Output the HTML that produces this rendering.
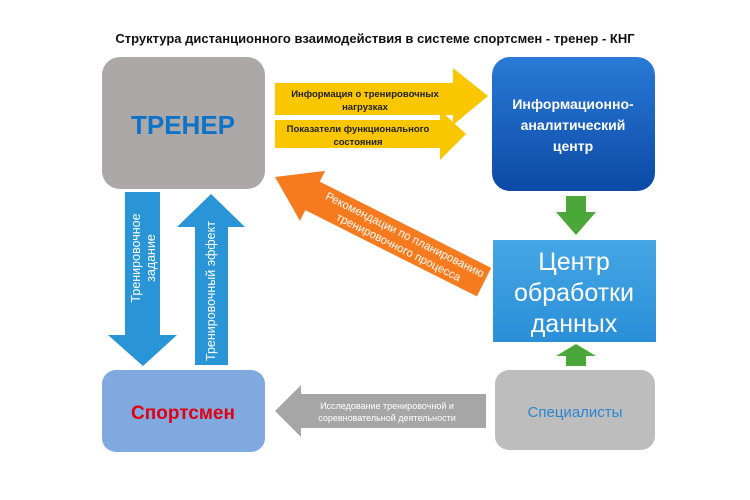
<!DOCTYPE html>
<html><head><meta charset="utf-8"><style>
body{margin:0;background:#fff;}
svg{display:block;font-family:"Liberation Sans","DejaVu Sans",sans-serif;}
</style></head><body>
<svg width="750" height="500" viewBox="0 0 750 500" xmlns="http://www.w3.org/2000/svg">
<defs>
<linearGradient id="gb" x1="0" y1="0" x2="0" y2="1"><stop offset="0" stop-color="#2a7ad6"/><stop offset="1" stop-color="#0b4aa6"/></linearGradient>
<linearGradient id="gc" x1="0" y1="0" x2="0" y2="1"><stop offset="0" stop-color="#45a6e4"/><stop offset="1" stop-color="#2a8fd8"/></linearGradient>
</defs>
<text x="375" y="43" text-anchor="middle" font-size="13" font-weight="bold" fill="#111">Структура дистанционного взаимодействия в системе спортсмен - тренер - КНГ</text>

<rect x="102" y="57" width="163" height="132" rx="18" fill="#aca8a7"/>
<text x="183" y="134" text-anchor="middle" font-size="26" font-weight="bold" fill="#0d73c8">ТРЕНЕР</text>

<rect x="492" y="57" width="163" height="134" rx="18" fill="url(#gb)"/>
<text font-size="14" font-weight="bold" fill="#fff" text-anchor="middle"><tspan x="573" y="109">Информационно-</tspan><tspan x="573" y="130">аналитический</tspan><tspan x="573" y="151">центр</tspan></text>

<polygon points="566,196 586,196 586,212 596,212 576,235 556,212 566,212" fill="#4aa83a"/>
<polygon points="576,344 596,356 586,356 586,366 566,366 566,356 556,356" fill="#4aa83a"/>

<rect x="493" y="240" width="163" height="102" fill="url(#gc)"/>
<text font-size="25" fill="#fff" text-anchor="middle"><tspan x="574" y="270">Центр</tspan><tspan x="574" y="301">обработки</tspan><tspan x="574" y="332">данных</tspan></text>

<rect x="495" y="370" width="160" height="80" rx="14" fill="#bdbdbd"/>
<text x="575" y="417" text-anchor="middle" font-size="15" fill="#2a86d0">Специалисты</text>

<rect x="102" y="370" width="163" height="82" rx="14" fill="#80a9e0"/>
<text x="183" y="419" text-anchor="middle" font-size="19" font-weight="bold" fill="#e00010">Спортсмен</text>

<polygon points="275,83 453,83 453,68 488,96 453,125 453,115 275,115" fill="#f9c600"/>
<text font-size="9.5" font-weight="bold" fill="#222" text-anchor="middle"><tspan x="365" y="97">Информация о тренировочных</tspan><tspan x="365" y="110">нагрузках</tspan></text>
<polygon points="275,120 440,120 440,110 466,134 440,160 440,148 275,148" fill="#f9c600"/>
<text font-size="9.5" font-weight="bold" fill="#222" text-anchor="middle"><tspan x="358" y="132">Показатели функционального</tspan><tspan x="358" y="145">состояния</tspan></text>

<polygon points="125,192 160,192 160,335 177,335 143,366 108,335 125,335" fill="#2a95d6"/>
<text transform="translate(140,258) rotate(-90)" font-size="12.5" fill="#fff" text-anchor="middle">Тренировочное</text>
<text transform="translate(155,258) rotate(-90)" font-size="12.5" fill="#fff" text-anchor="middle">задание</text>
<polygon points="211,194 245,227 228,227 228,365 195,365 195,227 177,227" fill="#2a95d6"/>
<text transform="translate(215,291) rotate(-90)" font-size="12.5" fill="#fff" text-anchor="middle">Тренировочный эффект</text>

<g transform="translate(275,177) rotate(26.7)">
<polygon points="0,0 42,-28 42,-16 234,-16 234,16 42,16 42,28" fill="#f67b1e"/>
<text font-size="11.5" fill="#fff" text-anchor="middle"><tspan x="142" y="-3">Рекомендации по планированию</tspan><tspan x="142" y="11">тренировочного процесса</tspan></text>
</g>

<polygon points="275,411 301,385 301,394 486,394 486,428 301,428 301,437" fill="#a6a6a6"/>
<text font-size="9" fill="#fff" text-anchor="middle"><tspan x="387" y="409">Исследование тренировочной и</tspan><tspan x="387" y="421">соревновательной деятельности</tspan></text>
</svg>
</body></html>
